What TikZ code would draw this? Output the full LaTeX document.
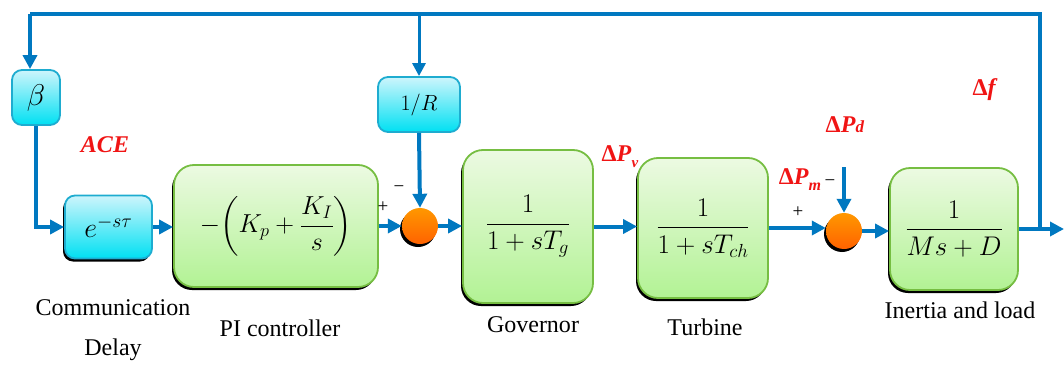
\RequirePackage{fix-cm}
\documentclass[tikz,border=0pt]{standalone}
\usepackage{amsmath}
\usepackage{fontspec}
\setmainfont{Liberation Serif}
\usetikzlibrary{arrows.meta,shadows}
\definecolor{flow}{RGB}{0,120,192}
\definecolor{gtop}{RGB}{236,250,226}
\definecolor{gbot}{RGB}{178,242,148}
\definecolor{gedge}{RGB}{118,190,66}
\definecolor{ctop}{RGB}{205,245,252}
\definecolor{cbot}{RGB}{0,224,242}
\definecolor{cedge}{RGB}{30,172,208}
\definecolor{otop}{RGB}{255,152,0}
\definecolor{obot}{RGB}{255,98,0}
\definecolor{lblred}{RGB}{240,20,20}
\tikzset{
  gbox/.style={draw=gedge, line width=1.8pt, rounded corners=20pt,
    top color=gtop, bottom color=gbot,
    drop shadow={shadow xshift=-2pt, shadow yshift=-3pt, fill=black, opacity=1},
    font=\fontsize{27}{31}\selectfont, inner sep=0pt},
  cbox/.style={draw=cedge, line width=1.8pt, rounded corners=10pt,
    top color=ctop, bottom color=cbot, inner sep=0pt},
  sumnode/.style={circle, minimum size=36pt, inner sep=0pt,
    top color=otop, bottom color=obot,
    drop shadow={shadow xshift=-2pt, shadow yshift=-3pt, fill=black, opacity=1}},
  flowarrow/.style={draw=flow, line width=4pt,
    -{Triangle[length=14pt,width=14pt]}},
  flowline/.style={draw=flow, line width=4pt},
  caption/.style={font=\fontsize{24}{28}\selectfont, inner sep=0pt},
  redlbl/.style={text=lblred, font=\fontsize{24}{28}\selectfont\bfseries, inner sep=0pt},
  sign/.style={font=\fontsize{19}{22}\selectfont, inner sep=0pt}
}
\begin{document}
\begin{tikzpicture}[x=1pt,y=-1pt]
\useasboundingbox (0,0) rectangle (1064,369);

% blocks
\node[cbox, minimum width=48pt, minimum height=55pt, font=\fontsize{30}{34}\selectfont] (beta) at (36,97.5) {$\beta$};
\node[cbox, minimum width=87pt, minimum height=63pt, font=\fontsize{28}{32}\selectfont,
  drop shadow={shadow xshift=-2pt, shadow yshift=-3pt, fill=black, opacity=1}] (delay) at (108.5,227) {$e^{-s\tau}$};
\node[gbox, minimum width=204pt, minimum height=122pt, font=\fontsize{26}{30}\selectfont] (pi) at (276,226)
  {$-\!\left(K_p+\dfrac{K_I}{s}\right)$};
\node[cbox, minimum width=82pt, minimum height=55pt, font=\fontsize{22}{26}\selectfont] (droop) at (419,104.5) {$1/R$};
\node[sumnode] (sum1) at (420,226) {};
\node[gbox, minimum width=130pt, minimum height=153pt] (gov) at (528,226.5)
  {$\dfrac{1}{1+sT_g}$};
\node[gbox, minimum width=130pt, minimum height=140pt] (turb) at (703,228)
  {$\dfrac{1}{1+sT_{ch}}$};
\node[sumnode] (sum2) at (844,231) {};
\node[gbox, minimum width=128pt, minimum height=122pt] (load) at (954,229)
  {$\dfrac{1}{Ms+D}$};

% coordinates
\coordinate (branch) at (1040,229);
\coordinate (topR) at (1040,14);
\coordinate (topM) at (419,14);
\coordinate (topL) at (30,14);
\coordinate (outend) at (1064,229);
\coordinate (dist) at (844,167);

% connectors
\draw[flowarrow] (beta.south) -- (beta.south |- delay.west) -- (delay.west);
\draw[flowarrow] (delay.east) -- (delay.east -| pi.west);
\draw[flowarrow] (pi.east) -- (pi.east -| sum1.west);
\draw[flowarrow] (sum1.east) -- (sum1.east -| gov.west);
\draw[flowarrow] (gov.east) -- (gov.east -| turb.west);
\draw[flowarrow] (turb.east) -- (turb.east -| sum2.west);
\draw[flowarrow] (sum2.east) -- (sum2.east -| load.west);
\draw[flowarrow] (load.east) -- (outend);
\draw[flowline] (branch) -- (topR) -- (topL);
\draw[flowarrow] (topL) -- (topL |- beta.north);
\draw[draw=flow, line width=3pt, -{Triangle[length=13pt,width=13pt]}] (topM) -- (droop.north);
\draw[flowarrow] (droop.south) -- (sum1.north);
\draw[flowarrow] (dist) -- (sum2.north);

% signal labels
\node[redlbl] (ace) at (105,145) {\itshape ACE};
\node[redlbl] (pv) at (620,157) {Δ\textit{P}\raisebox{-6pt}{\fontsize{15}{18}\selectfont\textit{v}}};
\node[redlbl] (pm) at (800,180) {Δ\textit{P}\raisebox{-6pt}{\fontsize{16}{18}\selectfont\textit{m}}};
\node[redlbl] (pd) at (845,125) {Δ\textit{P}{\fontsize{17}{18}\selectfont\textit{d}}};
\node[redlbl] (df) at (985,90) {Δ\textit{f}};

% signs
\node[sign] (p1) at (383,207) {+};
\node[sign] (m1) at (399,189) {−};
\node[sign] (p2) at (798,212) {+};
\node[sign] (m2) at (830,183) {−};

% captions
\node[caption] (c1) at (113,308) {Communication};
\node[caption] (c2) at (113,350) {Delay};
\node[caption] (c3) at (280,328) {PI controller};
\node[caption] (c4) at (533,325) {Governor};
\node[caption] (c5) at (705,327) {Turbine};
\node[caption] (c6) at (960,310) {Inertia and load};
\end{tikzpicture}
\end{document}
